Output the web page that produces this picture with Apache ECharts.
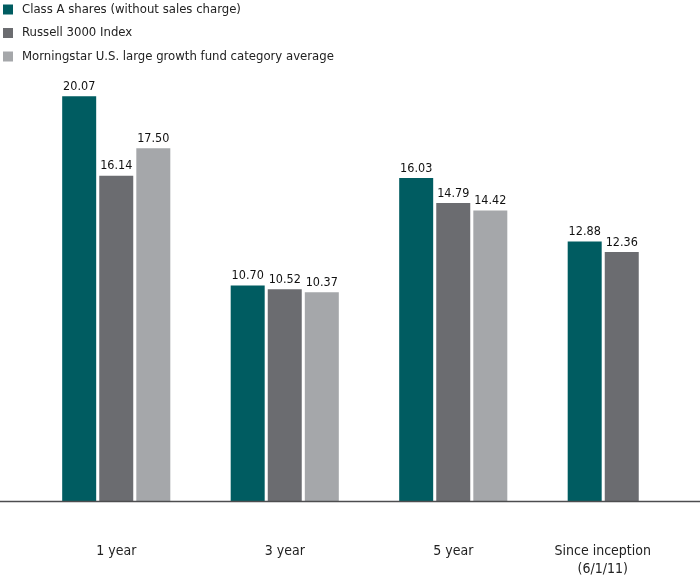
<!DOCTYPE html>
<html><head><meta charset="utf-8">
<script src="https://cdn.jsdelivr.net/npm/echarts@6/dist/echarts.min.js"></script>
<style>html,body{margin:0;padding:0;background:#fff}#c{width:700px;height:579px}</style>
</head><body><div id="c"></div>
<script>
const categories = ['1 year', '3 year', '5 year', 'Since inception\n(6/1/11)'];
const seriesNames = ['Class A shares (without sales charge)', 'Russell 3000 Index', 'Morningstar U.S. large growth fund category average'];
const classA = [20.07, 10.70, 16.03, 12.88];
const russell = [16.14, 10.52, 14.79, 12.36];
const morningstar = [17.50, 10.37, 14.42, null];
const colors = ['#005c61', '#6b6c70', '#a5a7aa'];
const FONT = '"DejaVu Sans Condensed", "Liberation Sans Narrow", sans-serif';

const chart = echarts.init(document.getElementById('c'));
const mk = (name, data, color) => ({
  name, type: 'bar', data, barWidth: 34, barGap: '9%',
  itemStyle: { color },
  label: { show: true, position: 'top', distance: 3, color: '#111', fontFamily: FONT, fontSize: 12.5,
    formatter: p => p.value == null ? '' : p.value.toFixed(2) }
});
chart.setOption({
  animation: false,
  textStyle: { fontFamily: FONT },
  legend: {
    orient: 'vertical', left: 3, top: 3, padding: 0, itemWidth: 10, itemHeight: 10, itemGap: 10.5,
    icon: 'rect', textStyle: { fontFamily: FONT, fontSize: 13, color: '#222', padding: [0, 0, 0, 4] },
    data: seriesNames
  },
  grid: { left: 32, right: -6, top: 17, bottom: 77.5, containLabel: false, outerBoundsMode: 'none' },
  xAxis: {
    type: 'category', data: categories.map((c, i) => i === 3 ? { value: c, textStyle: { padding: [0, 38, 0, 0] } } : c),
    axisLine: { show: false }, axisTick: { show: false },
    axisLabel: { margin: 41, color: '#222', fontFamily: FONT, fontSize: 14, lineHeight: 18 }
  },
  yAxis: { type: 'value', min: 0, max: 24, show: false, splitLine: { show: false } },
  graphic: [{ type: 'line', shape: { x1: 0, y1: 501.5, x2: 700, y2: 501.5 }, style: { stroke: '#4d4d4f', lineWidth: 1.5 }, z: 10 }],
  series: [mk(seriesNames[0], classA, colors[0]), mk(seriesNames[1], russell, colors[1]), mk(seriesNames[2], morningstar, colors[2])]
});
</script></body></html>
